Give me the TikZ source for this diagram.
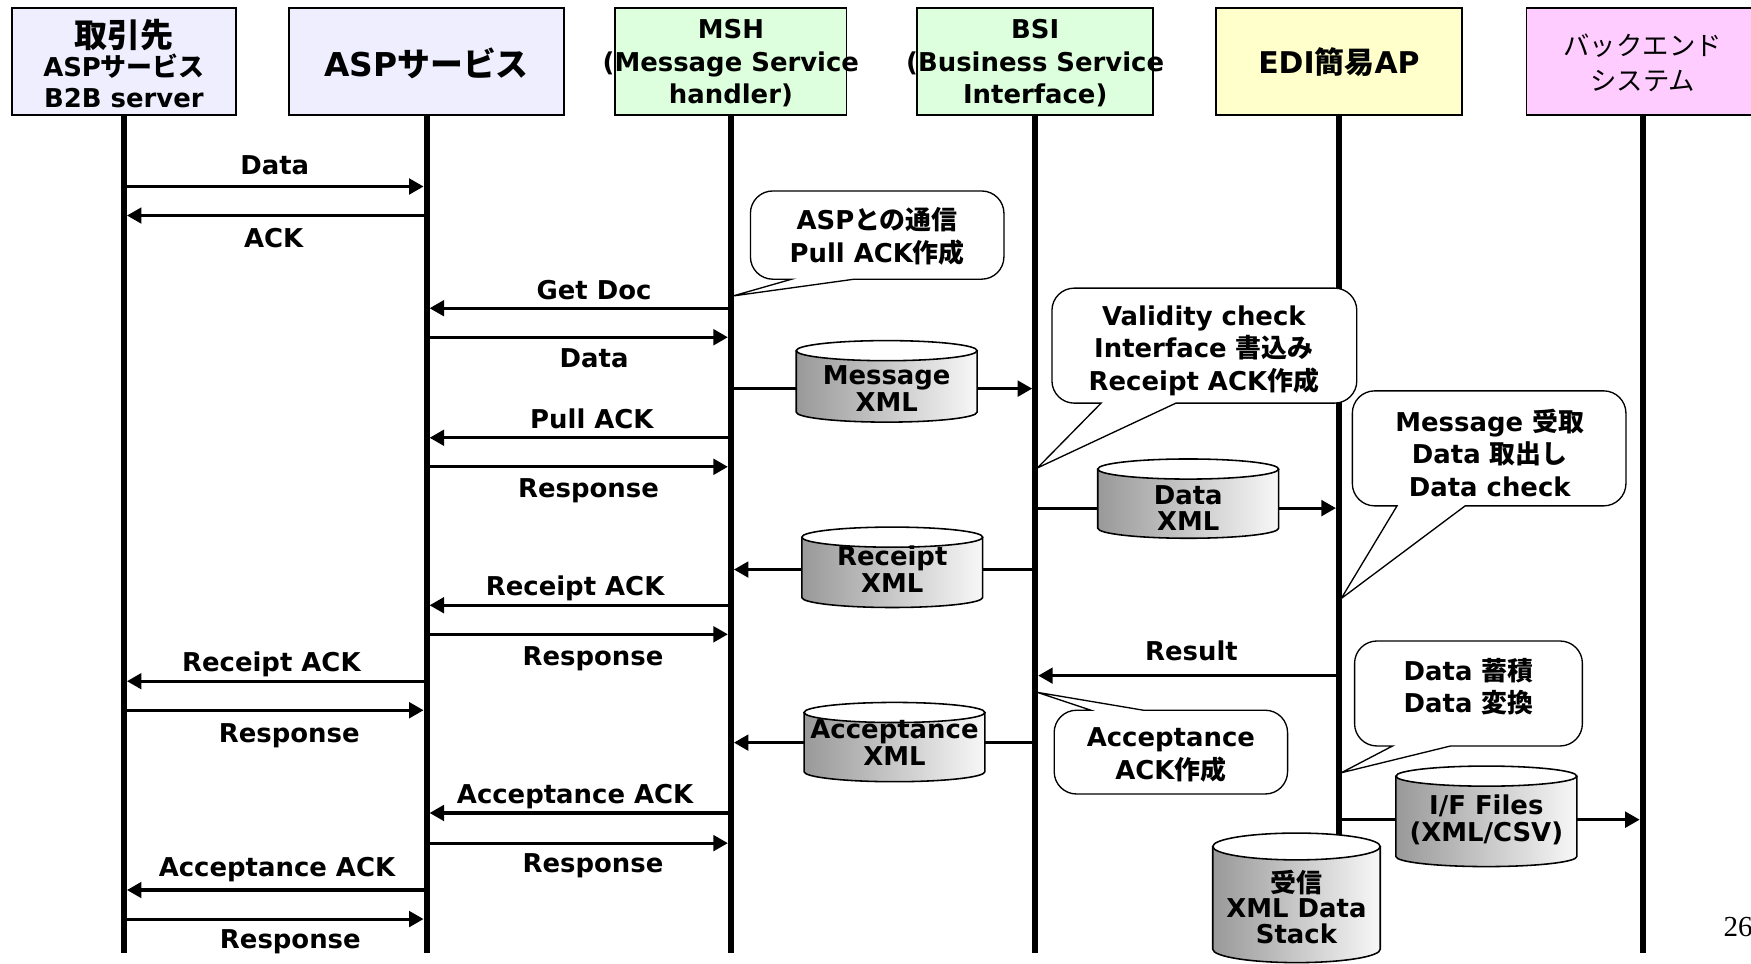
\documentclass[tikz,border=0pt]{standalone}
\usepackage{fontspec}
\setmainfont{DejaVu Sans}
\newfontfamily\jpfont{Noto Sans CJK JP}
\newfontfamily\pgnumfont{Liberation Serif}
\usetikzlibrary{arrows.meta,calc}
\newcommand\J[1]{{\jpfont\bfseries #1}}
\newcommand\Jr[1]{{\jpfont\mdseries #1}}
\newcommand\fs{\fontsize{11.6}{14.5}\selectfont\bfseries}
\definecolor{lav}{HTML}{EEEEFF}
\definecolor{mint}{HTML}{DDFFDD}
\definecolor{cream}{HTML}{FFFFCC}
\definecolor{pinkish}{HTML}{FFCCFF}
% cylinder outline: cx, cy, half width, half height, ellipse radius
\newcommand\cylshape[5]{%
  \fill[left color=black!40,right color=black!3] ({#1-#3},{#2+#4-#5}) -- ({#1-#3},{#2-#4+#5})
     arc[start angle=180,end angle=360,x radius=#3,y radius=#5] -- ({#1+#3},{#2+#4-#5}) -- cycle;
  \draw[cylline] ({#1-#3},{#2+#4-#5}) -- ({#1-#3},{#2-#4+#5})
     arc[start angle=180,end angle=360,x radius=#3,y radius=#5] -- ({#1+#3},{#2+#4-#5});
  \draw[cylline,fill=white] (#1,{#2+#4-#5}) ellipse[x radius=#3,y radius=#5];
}
\begin{document}
\begin{tikzpicture}[x=0.5pt,y=0.5pt,
  hbox/.style={draw=black,line width=0.8pt,minimum height=47.75pt,inner sep=0pt},
  htext/.style={font=\fs,align=center,inner sep=0pt},
  life/.style={line width=2.7pt},
  msg/.style={line width=1.4pt,-{Triangle[length=6.5pt,width=7pt]},shorten >=1.35pt,shorten <=1.35pt},
  plain/.style={line width=1.4pt,shorten <=1.35pt},
  lbl/.style={font=\fs,inner sep=0pt,text height=8.5pt,text depth=0pt},
  cylline/.style={line width=0.7pt},
  cyltext/.style={font=\fontsize{11.6}{12}\selectfont\bfseries,align=center,inner sep=0pt,minimum height=20pt},
  callout/.style={draw=black,line width=0.6pt,fill=white},
  ctext/.style={font=\fs,align=center,inner sep=0pt}
]
\useasboundingbox (0,0) rectangle (1568,-863);
\coordinate (bot) at (0,-853);

% header boxes
\node[hbox,fill=lav,minimum width=100pt] (h1) at (111,-55.25) {};
\node[hbox,fill=lav,minimum width=123pt] (h2) at (382,-55.25) {};
\node[hbox,fill=mint,minimum width=103.5pt] (h3) at (654.5,-55.25) {};
\node[hbox,fill=mint,minimum width=105.5pt] (h4) at (927,-55.25) {};
\node[hbox,fill=cream,minimum width=110pt] (h5) at (1199,-55.25) {};
\node[hbox,fill=pinkish,minimum width=104pt] (h6) at (1471,-55.25) {};

\node[htext,font=\fontsize{11.6}{14}\selectfont\bfseries] (t1) at (111,-57) {{\fontsize{14.8}{15}\selectfont\J{取引先}}\\[-1pt]ASP\J{サービス}\\B2B server};
\node[htext,font=\fontsize{14.7}{16}\selectfont\bfseries] (t2) at (382,-57) {ASP\J{サービス}};
\node[htext] (t3) at (654.5,-56.5) {MSH\\(Message Service\\handler)};
\node[htext] (t4) at (927,-56.5) {BSI\\(Business Service\\Interface)};
\node[htext,font=\fontsize{13.4}{15}\selectfont\bfseries] (t5) at (1199,-56) {EDI\J{簡易}AP};
\node[htext,font=\fontsize{11.8}{15.5}\selectfont] (t6) at (1471,-56.5) {\Jr{バックエンド}\\\Jr{システム}};

% lifelines
\foreach \h in {h1,h2,h3,h4,h5,h6}{\draw[life] (\h.south) -- (\h.south |- bot);}

% cylinders
\cylshape{794}{-341.5}{81}{36.5}{9}
\node[cyltext,minimum width=81pt] (mx) at (794,-348) {Message\\XML};
\cylshape{1064}{-446.5}{81}{35.5}{9}
\node[cyltext,minimum width=81pt] (dx) at (1064,-455) {Data\\XML};
\cylshape{799}{-508}{81}{36}{9}
\node[cyltext,minimum width=81pt] (rx) at (799,-510) {Receipt\\XML};
\cylshape{801}{-664.5}{81}{35.5}{9}
\node[cyltext,minimum width=81pt] (ax) at (801,-665) {Acceptance\\XML};
\cylshape{1331}{-731}{81}{45}{9}
\node[cyltext,minimum width=81pt] (ifx) at (1331,-734) {I/F Files\\(XML/CSV)};
\cylshape{1161}{-804}{75}{58}{12}
\node[cyltext,minimum width=75pt,font=\fontsize{11.6}{11.5}\selectfont\bfseries] (st) at (1161,-812) {\J{受信}\\XML Data\\Stack};

% messages
\draw[msg] (h1 |- 0,-167) -- (h2 |- 0,-167);
\draw[msg] (h2 |- 0,-193) -- (h1 |- 0,-193);
\draw[msg] (h3 |- 0,-276) -- (h2 |- 0,-276);
\draw[msg] (h2 |- 0,-302) -- (h3 |- 0,-302);
\draw[plain] (h3 |- mx) -- (mx.west);
\draw[msg,shorten <=0pt] (mx.east) -- (h4 |- mx);
\draw[msg] (h3 |- 0,-392) -- (h2 |- 0,-392);
\draw[msg] (h2 |- 0,-418) -- (h3 |- 0,-418);
\draw[plain] (h4 |- dx) -- (dx.west);
\draw[msg,shorten <=0pt] (dx.east) -- (h5 |- dx);
\draw[plain] (h4 |- rx) -- (rx.east);
\draw[msg,shorten <=0pt] (rx.west) -- (h3 |- rx);
\draw[msg] (h3 |- 0,-542) -- (h2 |- 0,-542);
\draw[msg] (h2 |- 0,-568) -- (h3 |- 0,-568);
\draw[msg] (h5 |- 0,-605) -- (h4 |- 0,-605);
\draw[msg] (h2 |- 0,-610) -- (h1 |- 0,-610);
\draw[msg] (h1 |- 0,-636) -- (h2 |- 0,-636);
\draw[plain] (h4 |- ax) -- (ax.east);
\draw[msg,shorten <=0pt] (ax.west) -- (h3 |- ax);
\draw[msg] (h3 |- 0,-728) -- (h2 |- 0,-728);
\draw[msg] (h2 |- 0,-755) -- (h3 |- 0,-755);
\draw[msg] (h2 |- 0,-797) -- (h1 |- 0,-797);
\draw[msg] (h1 |- 0,-823) -- (h2 |- 0,-823);
\draw[plain] (h5 |- ifx) -- (ifx.west);
\draw[msg,shorten <=0pt] (ifx.east) -- (h6 |- ifx);

% message labels
\node[lbl] (l1) at (246,-148) {Data};
\node[lbl] (l2) at (245,-213) {ACK};
\node[lbl] (l3) at (532,-260) {Get Doc};
\node[lbl] (l4) at (532,-321) {Data};
\node[lbl] (l5) at (530,-375) {Pull ACK};
\node[lbl] (l6) at (527,-437) {Response};
\node[lbl] (l7) at (515,-525) {Receipt ACK};
\node[lbl] (l8) at (531,-587) {Response};
\node[lbl] (l9) at (1067,-583) {Result};
\node[lbl] (l10) at (243,-593) {Receipt ACK};
\node[lbl] (l11) at (259,-656) {Response};
\node[lbl] (l12) at (515,-711) {Acceptance ACK};
\node[lbl] (l13) at (531,-773) {Response};
\node[lbl] (l14) at (248,-776) {Acceptance ACK};
\node[lbl] (l15) at (260,-841) {Response};

% callouts
\coordinate (tip1) at ($(h3 |- 0,-265)+(2,0)$);
\draw[callout] (tip1) -- (765,-250) [rounded corners=10pt] -- (899,-250) -- (899,-171) -- (672,-171) -- (672,-250) [sharp corners] -- (709,-250) -- cycle;
\node[ctext] (c1) at (785.5,-211.5) {ASP\J{との通信}\\Pull ACK\J{作成}};

\coordinate (tip2) at ($(h4 |- 0,-419)+(2,0)$);
\draw[callout] (tip2) -- (1053,-361) [rounded corners=10pt] -- (1215,-361) -- (1215,-258) -- (942,-258) -- (942,-361) [sharp corners] -- (986,-361) -- cycle;
\node[ctext] (c2) at (1078,-314) {Validity check\\Interface \J{書込み}\\Receipt ACK\J{作成}};

\coordinate (tip3) at ($(h5 |- 0,-536)+(2,0)$);
\draw[callout] (tip3) -- (1312,-453) [rounded corners=10pt] -- (1456,-453) -- (1456,-350) -- (1211,-350) -- (1211,-453) [sharp corners] -- (1251,-453) -- cycle;
\node[ctext] (c3) at (1334,-405.5) {Message \J{受取}\\Data \J{取出し}\\Data check};

\coordinate (tip4) at ($(h4 |- 0,-620)+(2,0)$);
\draw[callout] (tip4) -- (1024,-636) [rounded corners=10pt] -- (1153,-636) -- (1153,-711) -- (944,-711) -- (944,-636) [sharp corners] -- (977,-636) -- cycle;
\node[ctext] (c4) at (1048.5,-676) {Acceptance\\ACK\J{作成}};

\coordinate (tip5) at ($(h5 |- 0,-692)+(2,0)$);
\draw[callout] (tip5) -- (1299,-668) [rounded corners=10pt] -- (1417,-668) -- (1417,-574) -- (1213,-574) -- (1213,-668) [sharp corners] -- (1247,-668) -- cycle;
\node[ctext] (c5) at (1315,-615) {Data \J{蓄積}\\Data \J{変換}};

% page number
\node[font=\pgnumfont\fontsize{13}{13}\selectfont,anchor=west,inner sep=0pt] (pg) at (1543,-830) {26};
\end{tikzpicture}
\end{document}
